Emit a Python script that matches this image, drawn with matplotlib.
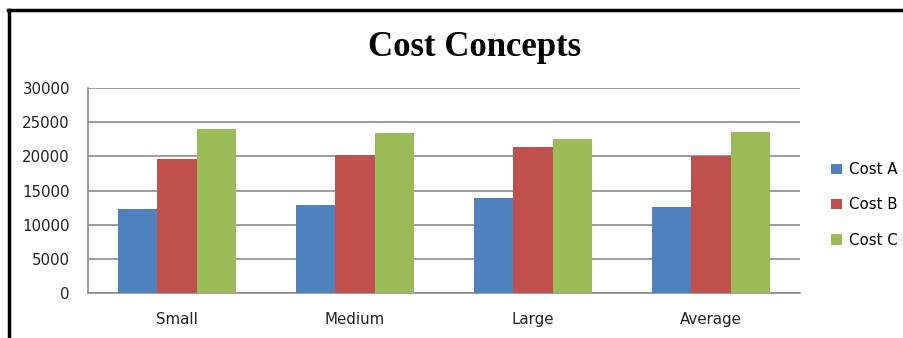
import matplotlib.pyplot as plt
import numpy as np
from matplotlib.lines import Line2D

categories = ['Small', 'Medium', 'Large', 'Average']
series = ['Cost A', 'Cost B', 'Cost C']
cost_a = [12250, 12950, 13970, 12650]
cost_b = [19560, 20170, 21440, 20120]
cost_c = [24040, 23350, 22510, 23590]
colors = ['#4F81BD', '#C0504D', '#9BBB59']
yticks = [0, 5000, 10000, 15000, 20000, 25000, 30000]

fig = plt.figure(figsize=(9.04, 3.38), dpi=100)
ax = fig.add_axes([0.0973, 0.1331, 0.7877, 0.6065])

x = np.arange(len(categories))
w = 0.222
for i, (vals, name) in enumerate(zip([cost_a, cost_b, cost_c], series)):
    ax.bar(x + (i - 1) * w, vals, width=w, color=colors[i], label=name, zorder=3)

ax.set_xlim(-0.5, len(categories) - 0.5)
ax.set_ylim(0, 30000)
ax.set_yticks(yticks)
ax.set_yticklabels([str(t) for t in yticks])
ax.set_xticks(x)
ax.set_xticklabels(categories)
ax.yaxis.grid(True, color='#8c8c8c', linewidth=1.2, zorder=0)
ax.tick_params(axis='both', length=0, labelsize=10.8, colors='#222222')
ax.tick_params(axis='x', pad=14)
ax.tick_params(axis='y', pad=13)
for s in ['top', 'right']:
    ax.spines[s].set_visible(False)
for s in ['left', 'bottom']:
    ax.spines[s].set_color('#8c8c8c')
    ax.spines[s].set_linewidth(1.2)

fig.text(0.525, 0.86, 'Cost Concepts', ha='center', va='center',
         fontsize=25, fontweight='bold', family='Liberation Serif')

ax.legend(loc='center left', bbox_to_anchor=(1.025, 0.43), frameon=False,
          handlelength=0.7, handleheight=0.7, handletextpad=0.5,
          labelspacing=1.35, fontsize=10.8)

# frame of the screenshot
fig.add_artist(Line2D([8 / 904, 1], [1 - 9.5 / 338] * 2, color='black', linewidth=2.5))
fig.add_artist(Line2D([9 / 904] * 2, [0, 1 - 9.5 / 338], color='black', linewidth=2.5))

fig.savefig('out.png', dpi=100)
